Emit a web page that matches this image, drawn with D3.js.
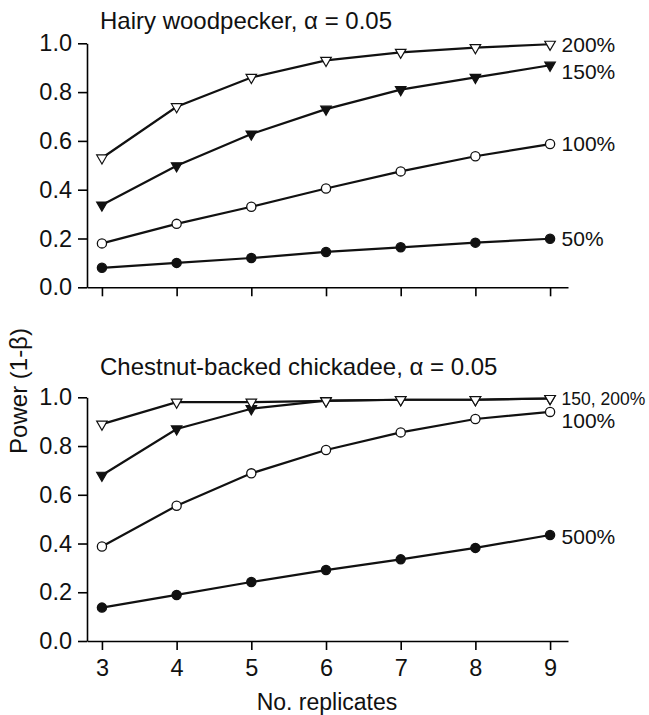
<!DOCTYPE html>
<html>
<head>
<meta charset="utf-8">
<script src="https://cdn.jsdelivr.net/npm/d3@7"></script>
<style>
  body { margin: 0; background: #fff; }
  svg, svg text { font-family: "Liberation Sans", Arial, sans-serif; }
</style>
</head>
<body>
<div id="chart"></div>
<script>
// Number of replicates
const replicates = [3, 4, 5, 6, 7, 8, 9];
const yTicks = [0, 0.2, 0.4, 0.6, 0.8, 1.0];

// Hairy woodpecker power values
const hairy200 = [0.53, 0.74, 0.86, 0.93, 0.963, 0.982, 0.996];
const hairy150 = [0.337, 0.498, 0.628, 0.73, 0.81, 0.86, 0.91];
const hairy100 = [0.18, 0.26, 0.33, 0.405, 0.475, 0.537, 0.587];
const hairy50 = [0.08, 0.10, 0.12, 0.145, 0.164, 0.183, 0.199];

// Chestnut-backed chickadee power values
const chick200 = [0.89, 0.98, 0.98, 0.985, 0.99, 0.99, 0.995];
const chick150 = [0.68, 0.87, 0.953, 0.986, 0.99, 0.99, 0.995];
const chick100 = [0.388, 0.555, 0.688, 0.784, 0.856, 0.911, 0.94];
const chick500 = [0.137, 0.189, 0.242, 0.291, 0.335, 0.382, 0.435];

const panels = [
  {
    title: "Hairy woodpecker, \u03b1 = 0.05", titleY: 29,
    top: 43.3, bottom: 287.3, tickLabels: false,
    series: [
      { values: hairy200, marker: "triOpen", label: "200%", labelDy: 0.5 },
      { values: hairy150, marker: "triFilled", label: "150%", labelDy: 6 },
      { values: hairy100, marker: "circleOpen", label: "100%", labelDy: 0 },
      { values: hairy50, marker: "circleFilled", label: "50%", labelDy: 0 }
    ]
  },
  {
    title: "Chestnut-backed chickadee, \u03b1 = 0.05", titleY: 375,
    top: 397.3, bottom: 641, tickLabels: true,
    series: [
      { values: chick150, marker: "triFilled", label: null },
      { values: chick200, marker: "triOpen", label: "150, 200%", labelDy: 0, small: true },
      { values: chick100, marker: "circleOpen", label: "100%", labelDy: 8.5 },
      { values: chick500, marker: "circleFilled", label: "500%", labelDy: 1.5 }
    ]
  }
];

const width = 649, height = 715;
const svg = d3.select("#chart").append("svg")
  .attr("width", width)
  .attr("height", height);

const x = d3.scaleLinear().domain([2.8, 9.24]).range([87, 568]);
const tri = d3.symbol().type(d3.symbolTriangle).size(48);

panels.forEach(p => {
  const y = d3.scaleLinear().domain([0, 1]).range([p.bottom, p.top]);
  const g = svg.append("g");

  // x axis
  const xAxis = d3.axisBottom(x)
    .tickValues(replicates)
    .tickSizeInner(9)
    .tickSizeOuter(0)
    .tickPadding(9)
    .tickFormat(p.tickLabels ? d3.format("d") : "");
  g.append("g")
    .attr("transform", "translate(0," + p.bottom + ")")
    .call(xAxis)
    .call(a => a.select(".domain").attr("stroke-width", 1.6))
    .call(a => a.selectAll(".tick line").attr("stroke-width", 1.6))
    .call(a => a.selectAll("text").attr("font-size", 23.5).attr("fill", "#111"));

  // y axis
  const yAxis = d3.axisLeft(y)
    .tickValues(yTicks)
    .tickSizeInner(9)
    .tickSizeOuter(0)
    .tickPadding(6)
    .tickFormat(d3.format(".1f"));
  g.append("g")
    .attr("transform", "translate(87,0)")
    .call(yAxis)
    .call(a => a.select(".domain").attr("stroke-width", 1.6))
    .call(a => a.selectAll(".tick line").attr("stroke-width", 1.6))
    .call(a => a.selectAll("text").attr("font-size", 23.5).attr("fill", "#111"));

  // title
  g.append("text")
    .attr("x", 100)
    .attr("y", p.titleY)
    .attr("font-size", 24)
    .attr("fill", "#111")
    .text(p.title);

  const line = d3.line()
    .x((d, i) => x(replicates[i]))
    .y(d => y(d));

  p.series.forEach(s => {
    g.append("path")
      .datum(s.values)
      .attr("fill", "none")
      .attr("stroke", "#111")
      .attr("stroke-width", 2.2)
      .attr("d", line);
  });

  p.series.forEach(s => {
    const pts = g.selectAll(null)
      .data(s.values)
      .enter();
    if (s.marker.startsWith("circle")) {
      pts.append("circle")
        .attr("cx", (d, i) => x(replicates[i]))
        .attr("cy", d => y(d))
        .attr("r", 4.6)
        .attr("fill", s.marker === "circleFilled" ? "#111" : "#fff")
        .attr("stroke", "#111")
        .attr("stroke-width", 1.3);
    } else {
      pts.append("path")
        .attr("d", tri)
        .attr("transform", (d, i) => "translate(" + x(replicates[i]) + "," + y(d) + ") rotate(180)")
        .attr("fill", s.marker === "triFilled" ? "#111" : "#fff")
        .attr("stroke", "#111")
        .attr("stroke-width", 1.2);
    }

    if (s.label) {
      g.append("text")
        .attr("x", x(9) + 11.5)
        .attr("y", y(s.values[s.values.length - 1]) + s.labelDy)
        .attr("dy", "0.35em")
        .attr("font-size", s.small ? 17.5 : 21)
        .attr("fill", "#111")
        .text(s.label);
    }
  });
});

// shared y label
svg.append("text")
  .attr("transform", "translate(27,391) rotate(-90)")
  .attr("text-anchor", "middle")
  .attr("font-size", 24)
  .attr("fill", "#111")
  .text("Power (1-\u03b2)");

// x label
svg.append("text")
  .attr("x", 327)
  .attr("y", 710)
  .attr("text-anchor", "middle")
  .attr("font-size", 23)
  .attr("fill", "#111")
  .text("No. replicates");
</script>
</body>
</html>
